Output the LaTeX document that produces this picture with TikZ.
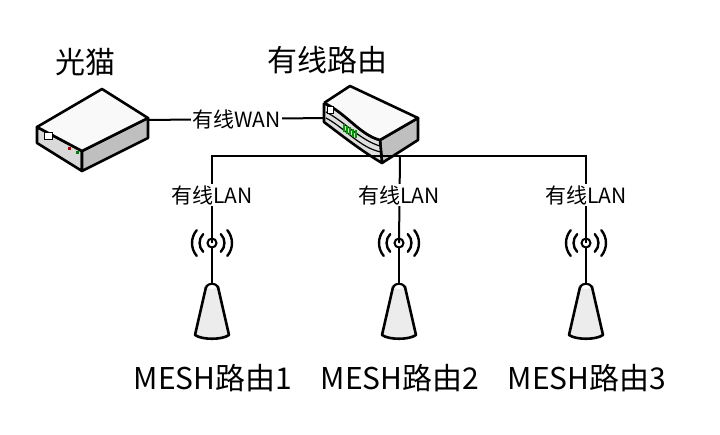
\documentclass[tikz,border=0pt]{standalone}
\usepackage{fontspec}
\setmainfont{Noto Sans CJK SC}
\usetikzlibrary{positioning}
\tikzset{
  title/.style={font=\fontsize{30}{32}\selectfont},
  link/.style={fill=white,inner sep=1pt,font=\fontsize{21}{23}\selectfont},
  wire/.style={line width=2pt},
  box/.style={line width=2.6pt,line join=round,fill=#1},
  wave/.style={line width=2.4pt,line cap=round}
}
\newcommand{\meshap}[2]{%
  \begin{scope}[shift={(#1,0)}]
    \coordinate (ap#2) at (0,243);
    \draw[wire] (0,243) -- (0,286);
    \draw[box=gray!15] (-6,287) -- (-17,335) .. controls (-10,340) and (10,340) .. (17,335) -- (6,287) .. controls (3,283) and (-3,283) .. (-6,287);
    \fill[white] (0,287) ellipse (4 and 2);
    \draw[line width=2pt,fill=white] (0,243) circle (4.5);
    \draw[wave] (-8.8,251.8) arc (135:225:12.5);
    \draw[wave] (8.8,251.8) arc (45:-45:12.5);
    \draw[wave] (-15.3,255.9) arc (140:220:20);
    \draw[wave] (15.3,255.9) arc (40:-40:20);
  \end{scope}}
\begin{document}
\begin{tikzpicture}[x=1pt,y=-1pt]
  \useasboundingbox (0,0) rectangle (720,434);
  % modem
  \draw[box=gray!30] (37,127) -- (82,151) -- (82,171) -- (37,143) -- cycle;
  \draw[box=gray!50] (82,151) -- (148,118) -- (148,138) -- (82,171) -- cycle;
  \draw[box=gray!5] (37,127) -- (102,89) -- (148,118) -- (82,151) -- cycle;
  \draw[line width=0.8pt,fill=white] (44,132) rectangle (52,139);
  \fill[red!70!black] (68,147) rectangle (71,150);
  \fill[green!50!black] (76,151) rectangle (79,154);
  \coordinate (modem) at (148,120);
  % router
  \draw[box=gray!50] (380,140) -- (418,118) -- (418,140) -- (382,163) -- cycle;
  \draw[box=gray!25] (324,103) -- (324,122) .. controls (340,134) and (360,150) .. (382,163) -- (380,140) .. controls (360,135) and (345,112) .. (324,103);
  \draw[line width=1.2pt] (326,118) .. controls (345,128) and (360,148) .. (381,152);
  \draw[line width=1.2pt] (326,112) .. controls (345,122) and (360,140) .. (380,146);
  \draw[box=gray!5] (324,103) -- (350,86) -- (418,118) -- (380,140) .. controls (360,135) and (345,112) .. (324,103);
  \draw[line width=0.8pt,fill=white] (327,106) rectangle (333,113);
  \foreach \i in {0,...,4}
    \draw[green!60!black,line width=1.6pt] (344+3*\i,124+1.6*\i) -- (344+3*\i,132+1.6*\i);
  \coordinate (router) at (325,118);
  \coordinate (bus) at (400,156);
  % titles
  \node[title] (modemlbl) at (85,62) {光猫};
  \node[title] (routerlbl) at (327,60) {有线路由};
  % mesh nodes
  \meshap{212}{1}
  \meshap{399}{2}
  \meshap{586}{3}
  \node[title] (mesh1) at (213,378) {MESH路由1};
  \node[title] (mesh2) at (400,378) {MESH路由2};
  \node[title] (mesh3) at (587,378) {MESH路由3};
  % links
  \draw[wire] (modem) -- node[link] {有线WAN} (router);
  \draw[wire] (ap1) |- (bus) -| (ap3);
  \draw[wire] (bus) -- (ap2);
  \node[link] at (212,195) {有线LAN};
  \node[link] at (399,195) {有线LAN};
  \node[link] at (586,195) {有线LAN};
\end{tikzpicture}
\end{document}
